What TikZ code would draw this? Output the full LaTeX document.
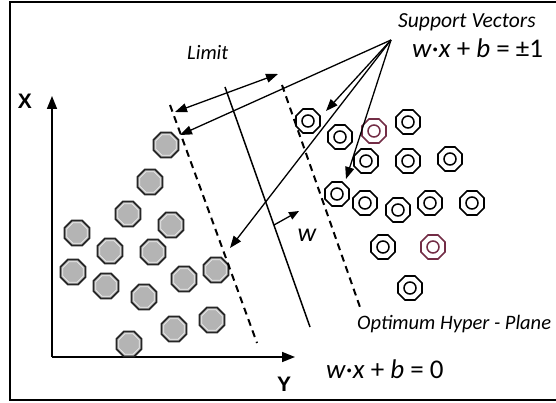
\documentclass[tikz,border=0pt]{standalone}
\usepackage{fontspec}
\setmainfont{Carlito}
\newfontfamily\axisfont{Liberation Sans}
\usetikzlibrary{arrows.meta,shapes.geometric}
\definecolor{dotgray}{RGB}{180,180,180}
\definecolor{ringred}{RGB}{115,45,70}
\tikzset{
  graydot/.style={regular polygon, regular polygon sides=8, minimum size=27pt,
    inner sep=0pt, draw=black!85, line width=1.9pt, fill=dotgray},
  graydotin/.style={regular polygon, regular polygon sides=8, minimum size=22pt,
    inner sep=0pt, draw=white!80!dotgray, line width=0.8pt},
  ringdot/.style={regular polygon, regular polygon sides=8, minimum size=26pt,
    inner sep=0pt, draw=#1, line width=1.7pt, fill=white},
  ringdot/.default=black,
  margin/.style={line width=2pt, dash pattern=on 7pt off 5pt},
  vecarrow/.style={line width=1.3pt, -{Triangle[length=12pt,width=9pt]}},
  lbl/.style={inner sep=0pt, anchor=base west, font=\fontsize{21.5}{25}\selectfont\itshape},
  eqn/.style={inner sep=0pt, anchor=base west, font=\fontsize{27}{32}\selectfont},
  axislabel/.style={inner sep=0pt, font=\axisfont\bfseries\fontsize{21}{24}\selectfont}
}
\begin{document}
\begin{tikzpicture}[x=1pt,y=-1pt]
\useasboundingbox (0,0) rectangle (556,403);
% frame
\draw[line width=1.2pt] (570,2) -- (10,2) -- (10,400) -- (570,400);
% axes
\coordinate (origin) at (52,357);
\coordinate (xtip) at (52,96);
\coordinate (ytip) at (295,357);
\draw[line width=1.6pt, -{Triangle[length=13pt,width=10pt]}] (origin) -- (xtip);
\draw[line width=1.6pt, -{Triangle[length=13pt,width=10pt]}] (origin) -- (ytip);
\node[axislabel] (xlab) at (25,101) {X};
\node[axislabel] (ylab) at (284,384) {Y};
% class one
\foreach \x/\y [count=\i] in {166/145, 150/182, 128/214, 171/225, 77/233, 110/251,
  153/252, 73/272, 184/279, 216/270, 106/286, 144/297, 212/320, 174/329, 129/344}
  {\node[graydot] (g\i) at (\x,\y) {}; \node[graydotin] (gi\i) at (g\i) {};}
% class two
\foreach \x/\y/\c [count=\i] in {308/121/black, 340/137/black, 374/131/ringred,
  408/122/black, 366/161/black, 408/161/black, 450/159/black, 337/194/black,
  365/203/black, 398/210/black, 430/203/black, 472/203/black, 383/247/black,
  433/247/ringred, 410/288/black}
  {\node[ringdot=\c] (r\i) at (\x,\y) {};
   \draw[draw=\c, line width=1.5pt] (r\i.center) circle (6pt);}
% hyperplane and margins
\coordinate (hpTop) at (225,87);  \coordinate (hpBot) at (310,327);
\coordinate (lmTop) at (170,105); \coordinate (lmBot) at (257,343);
\coordinate (rmTop) at (282,85);  \coordinate (rmBot) at (361,310);
\draw[line width=1.5pt] (hpTop) -- (hpBot);
\draw[margin] (lmTop) -- (lmBot);
\draw[margin] (rmTop) -- (rmBot);
% limit
\coordinate (limA) at (175,112); \coordinate (limB) at (278,74);
\draw[line width=1.3pt, {Triangle[length=12pt,width=9pt]}-{Triangle[length=12pt,width=9pt]}] (limA) -- (limB);
\node[lbl, font=\fontsize{20.5}{24}\selectfont\itshape] (limit) at (187,60) {Limit};
% support vectors
\coordinate (apex) at (391,40);
\coordinate (sv1) at (180,135);
\coordinate (sv2) at (326,111);
\coordinate (sv3) at (230,248);
\coordinate (sv4) at (346,179);
\foreach \t in {sv1, sv2, sv3, sv4} \draw[vecarrow] (apex) -- (\t);
% normal w
\coordinate (wA) at (274,225); \coordinate (wB) at (299,211);
\draw[line width=1.3pt, -{Triangle[length=10pt,width=8pt]}] (wA) -- (wB);
\node[inner sep=0pt, font=\fontsize{26}{30}\selectfont\itshape] (wlab) at (307,235) {w};
% labels
\node[lbl] (svlab) at (398,28) {Support Vectors};
\node[eqn] (eqpm) at (412,58) {\textit{w}·\textit{x} + \textit{b} = ±1};
\node[lbl, font=\fontsize{20.5}{24}\selectfont\itshape] (hplab) at (357,329) {Optimum Hyper - Plane};
\node[eqn] (eqzero) at (326,378) {\textit{w}·\textit{x} + \textit{b} = 0};
\end{tikzpicture}
\end{document}
